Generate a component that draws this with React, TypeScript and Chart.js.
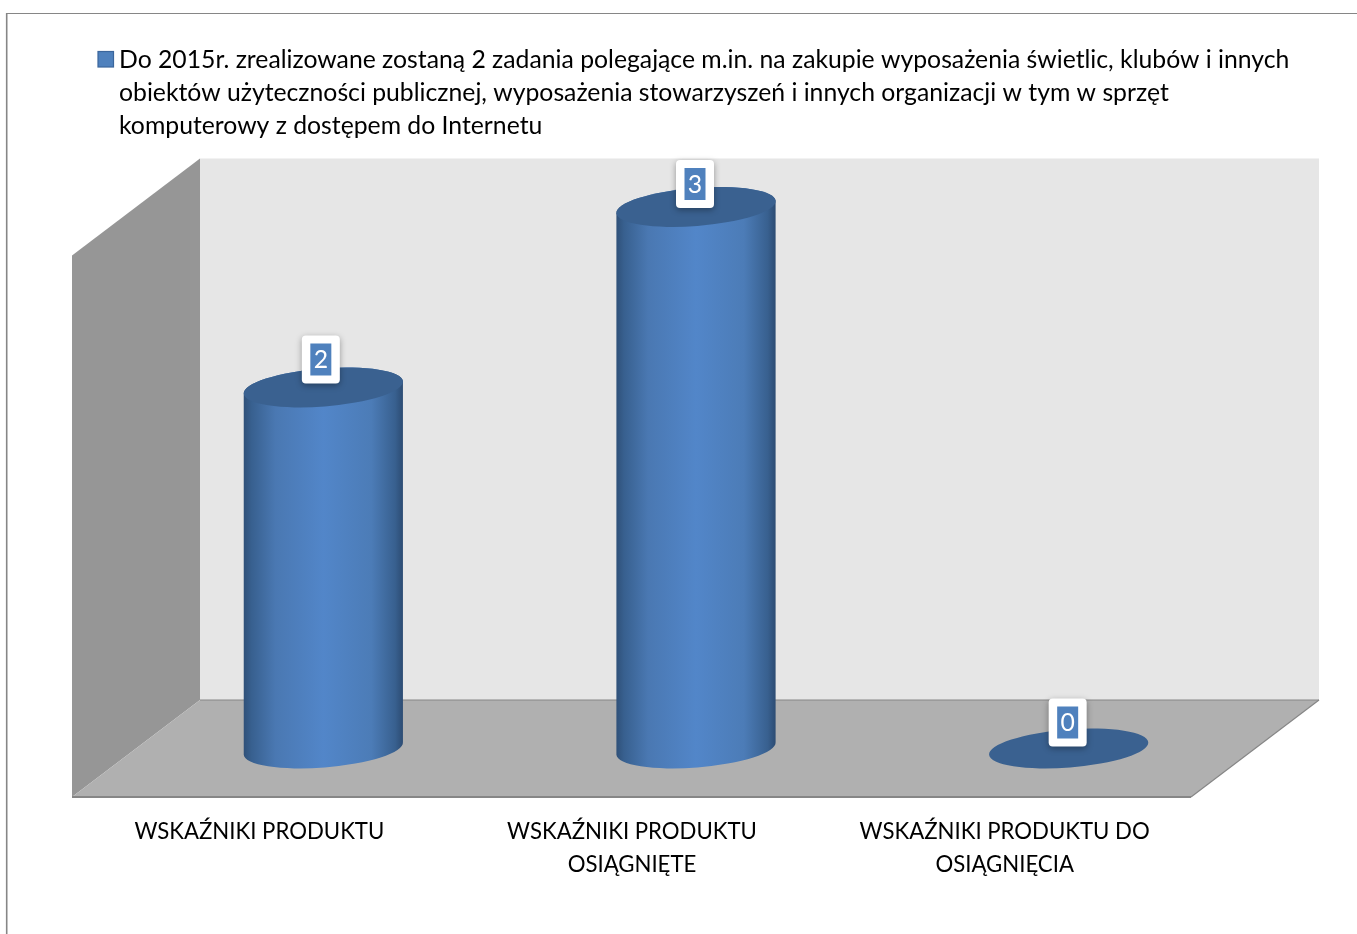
import React, { useEffect, useRef } from "react";
import { Chart, registerables } from "chart.js";

Chart.register(...registerables);

const categories = [
  ["WSKAŹNIKI PRODUKTU"],
  ["WSKAŹNIKI PRODUKTU", "OSIĄGNIĘTE"],
  ["WSKAŹNIKI PRODUKTU DO", "OSIĄGNIĘCIA"],
];
const values = [2, 3, 0];
const legendLines = [
  "Do 2015r. zrealizowane zostaną 2 zadania polegające m.in. na zakupie wyposażenia świetlic, klubów i innych",
  "obiektów użyteczności publicznej, wyposażenia stowarzyszeń i innych organizacji w tym w sprzęt",
  "komputerowy z dostępem do Internetu",
];
const labelLift = [28, 23, 26];
const labelShift = [-2.5, -1, -1];

const FONT = "Lato, 'Open Sans', sans-serif";
const LEGEND_SIZE = 24.75;
const TICK_SIZE = 22.2;
const DX = 64;
const DY = 48.5;
const TILT = (-4.5 * Math.PI) / 180;
const RY = 19;

function poly(ctx: CanvasRenderingContext2D, pts: number[][], fill: string) {
  ctx.beginPath();
  pts.forEach((p, i) => (i ? ctx.lineTo(p[0], p[1]) : ctx.moveTo(p[0], p[1])));
  ctx.closePath();
  ctx.fillStyle = fill;
  ctx.fill();
}

function line(ctx: CanvasRenderingContext2D, a: number[], b: number[], w: number, c = "#868686") {
  ctx.beginPath();
  ctx.moveTo(a[0], a[1]);
  ctx.lineTo(b[0], b[1]);
  ctx.lineWidth = w;
  ctx.strokeStyle = c;
  ctx.stroke();
}

const scenePlugin = {
  id: "scene",
  beforeDatasetsDraw(chart: any) {
    const { ctx, chartArea: a } = chart;
    const L = a.left - 1, R = a.right, T = a.top, B = a.bottom;
    ctx.save();
    // frame
    line(ctx, [7, 13.5], [1357, 13.5], 1.2);
    line(ctx, [6.7, 13], [6.7, 934], 1.6);
    // walls
    poly(ctx, [[L + DX, T - DY], [R + DX, T - DY], [R + DX, B - DY], [L + DX, B - DY]], "#e6e6e6");
    poly(ctx, [[L - DX, T + DY], [L + DX, T - DY], [L + DX, B - DY], [L - DX, B + DY]], "#969696");
    poly(ctx, [[L - DX, B + DY], [L + DX, B - DY], [R + DX, B - DY], [R - DX, B + DY]], "#b0b0b0");
    line(ctx, [L + DX, B - DY], [R + DX, B - DY], 1.2);
    line(ctx, [R + DX, B - DY], [R - DX, B + DY], 1.2);
    line(ctx, [L - DX, B + DY], [R - DX, B + DY], 1.8);
    ctx.restore();

    // legend
    ctx.save();
    ctx.fillStyle = "#4f81bd";
    ctx.fillRect(98, 51.5, 15.5, 15.5);
    ctx.strokeStyle = "#3b669c";
    ctx.lineWidth = 1.2;
    ctx.strokeRect(98, 51.5, 15.5, 15.5);
    ctx.fillStyle = "#000";
    ctx.font = `${LEGEND_SIZE}px ${FONT}`;
    ctx.textBaseline = "middle";
    ctx.textAlign = "left";
    legendLines.forEach((t, i) => ctx.fillText(t, 119, 60 + i * 33));
    ctx.restore();
  },
  afterDatasetsDraw(chart: any) {
    const { ctx } = chart;
    const meta = chart.getDatasetMeta(0);
    meta.data.forEach((el: any) => {
      const cx = el.x, top = el.y, base = el.base, rx = el.width / 2;
      ctx.save();
      if (top < base - 1) {
        const g = ctx.createLinearGradient(cx - rx, 0, cx + rx, 0);
        g.addColorStop(0, "#2f5078");
        g.addColorStop(0.05, "#38608f");
        g.addColorStop(0.2, "#4a78b2");
        g.addColorStop(0.5, "#5286c9");
        g.addColorStop(0.8, "#4c7cb7");
        g.addColorStop(0.95, "#38608f");
        g.addColorStop(1, "#2c4b72");
        ctx.beginPath();
        ctx.ellipse(cx, base, rx, RY, TILT, 0, Math.PI, false);
        ctx.ellipse(cx, top, rx, RY, TILT, Math.PI, Math.PI * 2, false);
        ctx.closePath();
        ctx.fillStyle = g;
        ctx.fill();
      }
      ctx.beginPath();
      ctx.ellipse(cx, top, rx, RY, TILT, 0, Math.PI * 2);
      ctx.fillStyle = "#3a6190";
      ctx.fill();
      ctx.restore();
    });
    // data labels
    meta.data.forEach((el: any, i: number) => {
      const cx = el.x + labelShift[i], cy = el.y - labelLift[i];
      ctx.save();
      ctx.shadowColor = "rgba(0,0,0,0.35)";
      ctx.shadowBlur = 6;
      ctx.shadowOffsetY = 2;
      ctx.beginPath();
      ctx.roundRect(cx - 19, cy - 24, 38, 48, 4);
      ctx.fillStyle = "#fff";
      ctx.fill();
      ctx.restore();
      ctx.save();
      ctx.fillStyle = "#4f81bd";
      ctx.fillRect(cx - 10.5, cy - 16, 21, 32);
      ctx.fillStyle = "#fff";
      ctx.font = `${LEGEND_SIZE}px ${FONT}`;
      ctx.textAlign = "center";
      ctx.textBaseline = "middle";
      ctx.fillText(String(values[i]), cx, cy + 1);
      ctx.restore();
    });
  },
};

export default function App() {
  const ref = useRef<HTMLCanvasElement | null>(null);
  useEffect(() => {
    const chart = new Chart(ref.current!, {
      type: "bar",
      data: {
        labels: categories as any,
        datasets: [
          {
            label: legendLines.join(" "),
            data: values,
            backgroundColor: "rgba(0,0,0,0)",
            barPercentage: 1,
            categoryPercentage: 0.4285,
          },
        ],
      },
      plugins: [scenePlugin],
      options: {
        animation: false,
        responsive: false,
        devicePixelRatio: 1,
        layout: { padding: { left: 137, right: 102, top: 207, bottom: 0 } },
        plugins: { legend: { display: false }, tooltip: { enabled: false }, title: { display: false } },
        scales: {
          x: {
            grid: { display: false },
            border: { display: false },
            afterFit: (s: any) => {
              s.height = 185.5;
            },
            ticks: {
              color: "#000",
              font: { family: FONT, size: TICK_SIZE, lineHeight: 33 / TICK_SIZE },
              padding: 59,
              labelOffset: -64,
              autoSkip: false,
              maxRotation: 0,
              minRotation: 0,
            },
          },
          y: { display: false, min: 0, max: 3 },
        },
      },
    } as any);
    return () => chart.destroy();
  }, []);
  return (
    <canvas
      ref={ref}
      width={1357}
      height={934}
      style={{ position: "absolute", left: 0, top: 0, width: 1357, height: 934, display: "block" }}
    />
  );
}
